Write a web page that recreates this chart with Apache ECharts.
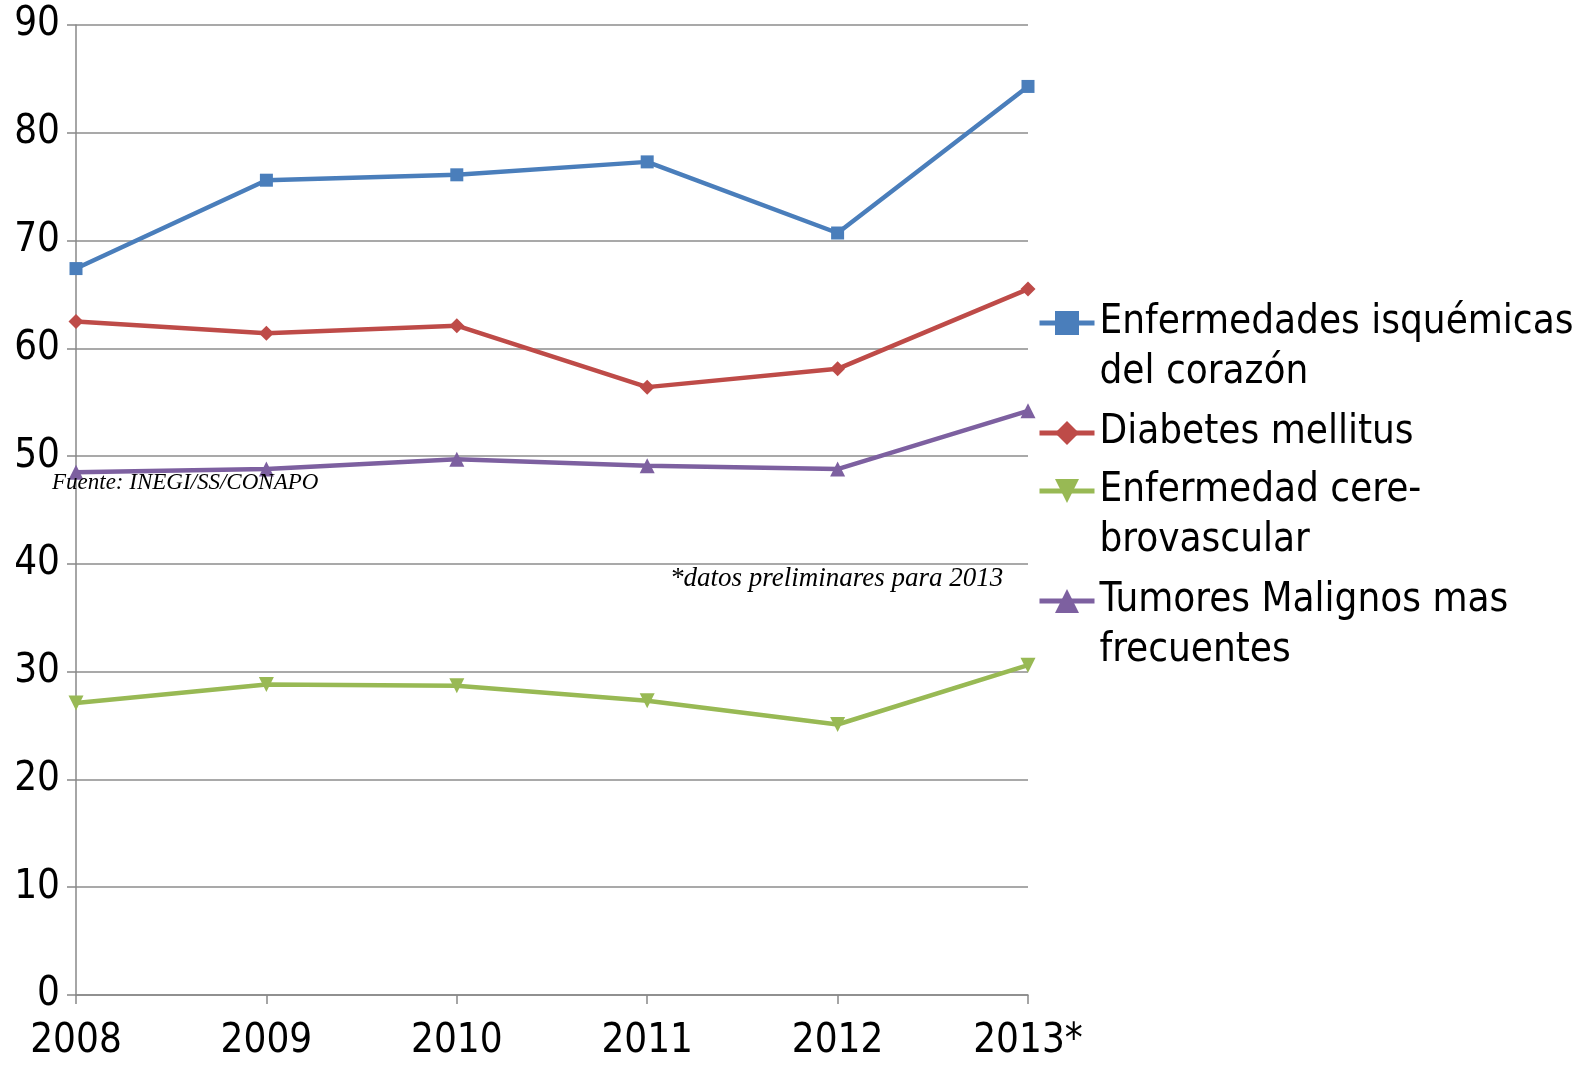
<!DOCTYPE html>
<html><head><meta charset="utf-8">
<script src="https://cdn.jsdelivr.net/npm/echarts@6/dist/echarts.min.js"></script>
<style>html,body{margin:0;padding:0;background:#fff}#c{width:1594px;height:1066px}</style>
</head><body><div id="c"></div>
<script>
var years = ['2008','2009','2010','2011','2012','2013*'];
var seriesNames = ['Enfermedades isquémicas\ndel corazón','Diabetes mellitus','Enfermedad cere-\nbrovascular','Tumores Malignos mas\nfrecuentes'];
var isquemicas = [67.4, 75.6, 76.1, 77.3, 70.7, 84.3];
var diabetes = [62.5, 61.4, 62.1, 56.4, 58.1, 65.5];
var cerebrovascular = [27.1, 28.8, 28.7, 27.3, 25.1, 30.6];
var tumores = [48.5, 48.8, 49.7, 49.1, 48.8, 54.2];
var yTicks = [0,10,20,30,40,50,60,70,80,90];
var sourceNote = 'Fuente: INEGI/SS/CONAPO';
var prelimNote = '*datos preliminares para 2013';

var colors = ['#4a7ebb','#be4b48','#98b954','#7d60a0'];
var symbols = ['rect','diamond','triangle','triangle'];
var symSizes = [13,15,15,15];
var rotates = [0,0,180,0];
var dataArr = [isquemicas, diabetes, cerebrovascular, tumores];
var font = '"DejaVu Sans Condensed","DejaVu Sans",sans-serif';
var LH = 50;
var legendCenters = [323, 433, 491, 601];

var series = seriesNames.map(function(n,i){
  return {
    name: n, type: 'line', data: dataArr[i],
    symbol: symbols[i], symbolSize: symSizes[i], symbolRotate: rotates[i],
    lineStyle: {width: 4.5, color: colors[i]},
    itemStyle: {color: colors[i]},
    animation: false, z: 3 + (3 - i)
  };
});

var legends = seriesNames.map(function(n,i){
  var lines = n.split('\n').length;
  var total = lines === 1 ? 1 : 3;
  return {
    data: [n],
    formatter: function(name){ return lines === 1 ? name : ' \n' + name; },
    orient: 'vertical',
    left: 1037, top: legendCenters[i] - total * LH / 2,
    padding: 0, itemWidth: 55, itemHeight: 30, itemGap: 0,
    lineStyle: {width: 5},
    textStyle: {fontFamily: font, fontSize: 40, color: '#000', lineHeight: LH},
    selectedMode: false
  };
});

var chart = echarts.init(document.getElementById('c'));
chart.setOption({
  animation: false,
  color: colors,
  grid: {left: 76, right: 566, top: 25, bottom: 71, containLabel: false},
  legend: legends,
  xAxis: {
    type: 'category', data: years, boundaryGap: false,
    axisLine: {lineStyle: {color: '#888', width: 1.5}},
    axisTick: {show: true, length: 9, lineStyle: {color: '#888', width: 1.5}},
    axisLabel: {fontFamily: font, fontSize: 40, color: '#000', margin: 27},
    splitLine: {show: false}
  },
  yAxis: {
    type: 'value', min: yTicks[0], max: yTicks[yTicks.length-1], interval: 10,
    axisLine: {show: true, lineStyle: {color: '#888', width: 1.5}},
    axisTick: {show: true, length: 9, lineStyle: {color: '#888', width: 1.5}},
    axisLabel: {fontFamily: font, fontSize: 40, color: '#000', margin: 16},
    splitLine: {lineStyle: {color: '#8c8c8c', width: 1.5}}
  },
  series: series,
  graphic: [
    {type: 'text', left: 52, top: 471, z: 100, style: {text: sourceNote, font: 'italic 23px "Liberation Serif", serif', fill: '#000'}},
    {type: 'text', left: 670, top: 565, z: 100, style: {text: prelimNote, font: 'italic 27px "Liberation Serif", serif', fill: '#000'}}
  ]
});
</script></body></html>
